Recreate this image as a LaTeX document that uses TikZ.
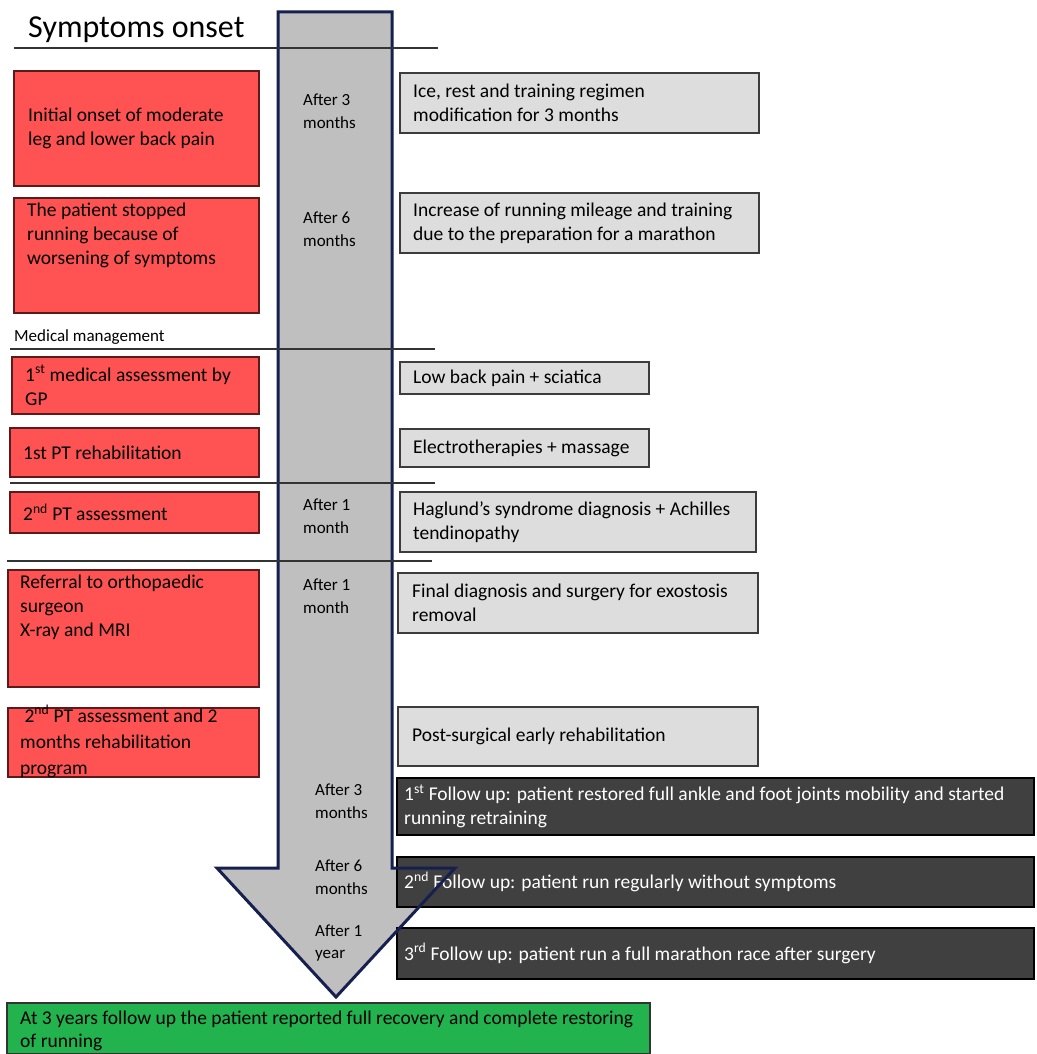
\documentclass[tikz,border=0pt]{standalone}
\usepackage{fontspec}
\setmainfont{Carlito}
\usetikzlibrary{positioning}

\definecolor{redfill}{HTML}{FF5252}
\definecolor{redline}{HTML}{5C1A1A}
\definecolor{greyfill}{HTML}{DDDDDD}
\definecolor{greyline}{HTML}{3C3C3C}
\definecolor{darkfill}{HTML}{404040}
\definecolor{greenfill}{HTML}{22B24E}
\definecolor{arrowfill}{HTML}{BFBFBF}
\definecolor{navy}{HTML}{16204F}

\tikzset{
  boxbase/.style={rectangle, inner sep=0pt, outer sep=0pt, anchor=north west},
  redbox/.style={boxbase, fill=redfill, draw=redline, line width=1.3pt},
  greybox/.style={boxbase, fill=greyfill, draw=greyline, line width=1.1pt},
  darkbox/.style={boxbase, fill=darkfill, draw=black, line width=1.6pt},
  greenbox/.style={boxbase, fill=greenfill, draw=black!80, line width=1.1pt},
  txt/.style={inner sep=0pt, align=left, font=\fontsize{19.5}{24}\selectfont},
  wtxt/.style={txt, text=white},
  timetxt/.style={inner sep=0pt, align=left, font=\fontsize{17}{22.5}\selectfont},
  sepline/.style={draw=black!80, line width=1.1pt},
}

% box: name, style, x, y, width, height (pixel-like units, y downwards)
\newcommand\mkbox[6]{%
  \node[#2, minimum width=#5pt, minimum height=#6pt] (#1) at (#3,#4) {};}

\begin{document}
\begin{tikzpicture}[x=1pt,y=-1pt]
\useasboundingbox (0,0) rectangle (1036,1054);

% timeline arrow body
\coordinate (a1) at (278,12);
\coordinate (a2) at (392,12);
\coordinate (a3) at (392,868);
\coordinate (a4) at (455,868);
\coordinate (a5) at (336,997);
\coordinate (a6) at (217,868);
\coordinate (a7) at (278,868);
\fill[arrowfill] (a1) -- (a2) -- (a3) -- (a4) -- (a5) -- (a6) -- (a7) -- cycle;

% heading
\node[inner sep=0pt, anchor=west, font=\fontsize{32}{36}\selectfont] (title) at (28,30) {Symptoms onset};
\node[inner sep=0pt, anchor=west, font=\fontsize{17}{20}\selectfont] (medical) at (14,337) {Medical management};

% left column: clinical events
\mkbox{r1}{redbox}{14}{71}{245}{115}
\node[txt, anchor=west] (r1t) at ([xshift=14pt]r1.west) {Initial onset of moderate\\leg and lower back pain};
\mkbox{r2}{redbox}{14}{198}{245}{115}
\node[txt, anchor=north west] (r2t) at ([xshift=13pt,yshift=-5pt]r2.north west) {The patient stopped\\running because of\\worsening of symptoms};
\mkbox{r3}{redbox}{12}{357}{247}{57}
\node[txt, anchor=west] (r3t) at ([xshift=13pt]r3.west) {1\textsuperscript{st} medical assessment by\\GP};
\mkbox{r4}{redbox}{10}{428}{249}{49}
\node[txt, anchor=west] (r4t) at ([xshift=13pt]r4.west) {1st PT rehabilitation};
\mkbox{r5}{redbox}{10}{492}{249}{41}
\node[txt, anchor=west] (r5t) at ([xshift=13pt]r5.west) {2\textsuperscript{nd} PT assessment};
\mkbox{r6}{redbox}{8}{570}{251}{117}
\node[txt, anchor=north west] (r6t) at ([xshift=12pt,yshift=-5pt]r6.north west) {Referral to orthopaedic\\surgeon\\X-ray and MRI};
\mkbox{r7}{redbox}{8}{708}{251}{69}
\node[txt, anchor=north west, font=\fontsize{19.5}{26}\selectfont] (r7t) at ([xshift=12pt,yshift=3pt]r7.north west) {\ 2\textsuperscript{nd} PT assessment and 2\\months rehabilitation\\program};

% right column: findings and treatment
\mkbox{g1}{greybox}{400}{73}{359}{60}
\node[txt, anchor=west] (g1t) at ([xshift=13pt]g1.west) {Ice, rest and training regimen\\modification for 3 months};
\mkbox{g2}{greybox}{400}{193}{359}{60}
\node[txt, anchor=west] (g2t) at ([xshift=13pt]g2.west) {Increase of running mileage and training\\due to the preparation for a marathon};
\mkbox{g3}{greybox}{400}{362}{249}{32}
\node[txt, anchor=west] (g3t) at ([xshift=13pt]g3.west) {Low back pain + sciatica};
\mkbox{g4}{greybox}{400}{429}{249}{38}
\node[txt, anchor=west] (g4t) at ([xshift=13pt]g4.west) {Electrotherapies + massage};
\mkbox{g5}{greybox}{400}{492}{356}{60}
\node[txt, anchor=west] (g5t) at ([xshift=13pt]g5.west) {Haglund’s syndrome diagnosis + Achilles\\tendinopathy};
\mkbox{g6}{greybox}{398}{573}{360}{60}
\node[txt, anchor=west] (g6t) at ([xshift=14pt]g6.west) {Final diagnosis and surgery for exostosis\\removal};
\mkbox{g7}{greybox}{398}{707}{360}{59}
\node[txt, anchor=west] (g7t) at ([xshift=14pt]g7.west) {Post-surgical early rehabilitation};

% follow-up results
\mkbox{d1}{darkbox}{397}{778}{637}{57}
\node[wtxt, anchor=west] (d1t) at ([xshift=7pt]d1.west) {1\textsuperscript{st} Follow up: patient restored full ankle and foot joints mobility and started\\running retraining};
\mkbox{d2}{darkbox}{397}{857}{637}{50}
\node[wtxt, anchor=west] (d2t) at ([xshift=7pt]d2.west) {2\textsuperscript{nd} Follow up: patient run regularly without symptoms};
\mkbox{d3}{darkbox}{397}{928}{637}{51}
\node[wtxt, anchor=west] (d3t) at ([xshift=7pt]d3.west) {3\textsuperscript{rd} Follow up: patient run a full marathon race after surgery};

% arrow outline on top
\draw[navy, line width=3pt, line join=miter] (a1) -- (a2) -- (a3) -- (a4) -- (a5) -- (a6) -- (a7) -- cycle;

% section separators
\coordinate (s1a) at (14,48);  \coordinate (s1b) at (438,48);
\coordinate (s2a) at (10,349); \coordinate (s2b) at (435,349);
\coordinate (s3a) at (10,483); \coordinate (s3b) at (435,483);
\coordinate (s4a) at (7,561);  \coordinate (s4b) at (432,561);
\draw[sepline] (s1a) -- (s1b);
\draw[sepline] (s2a) -- (s2b);
\draw[sepline] (s3a) -- (s3b);
\draw[sepline] (s4a) -- (s4b);

% time intervals along the arrow
\node[timetxt, anchor=west] (t1) at (303,111) {After 3\\months};
\node[timetxt, anchor=west] (t2) at (303,229) {After 6\\months};
\node[timetxt, anchor=west] (t3) at (303,516) {After 1\\month};
\node[timetxt, anchor=west] (t4) at (303,596) {After 1\\month};
\node[timetxt, anchor=west] (t5) at (315,801) {After 3\\months};
\node[timetxt, anchor=west] (t6) at (315,877) {After 6\\months};
\node[timetxt, anchor=west] (t7) at (315,943) {After 1\\year};

% long-term outcome
\mkbox{gr}{greenbox}{7}{1003}{643}{51}
\node[txt, anchor=west, font=\fontsize{19.5}{23}\selectfont] (grt) at ([xshift=13pt,yshift=-2pt]gr.west) {At 3 years follow up the patient reported full recovery and complete restoring\\of running};
\end{tikzpicture}
\end{document}
